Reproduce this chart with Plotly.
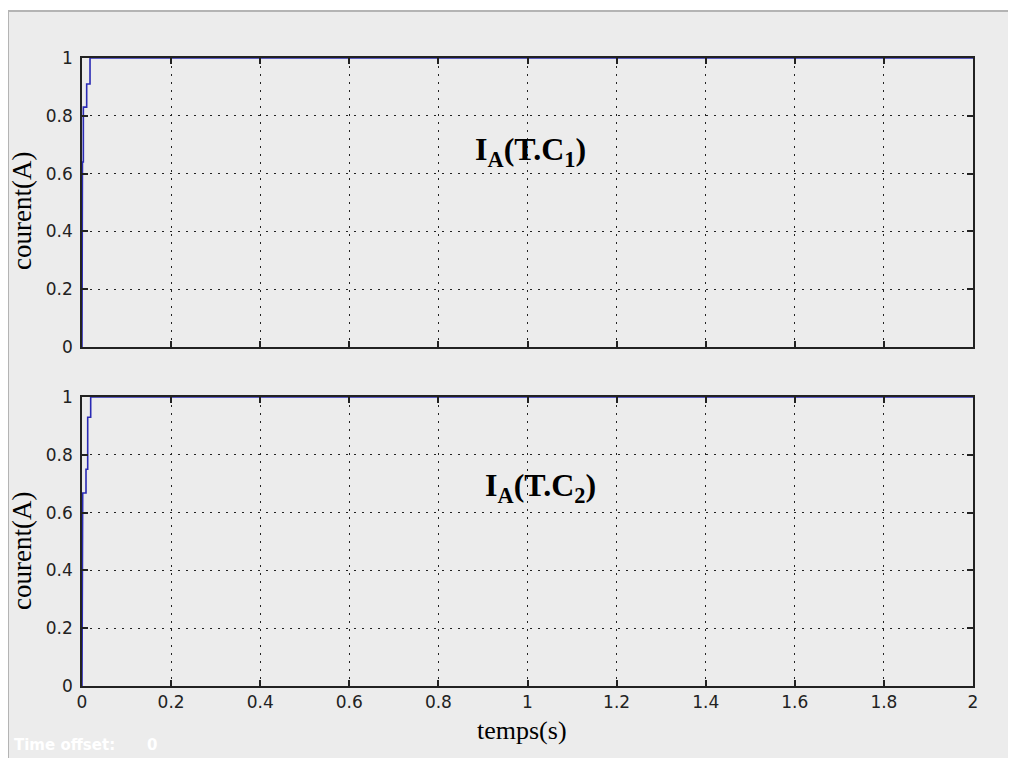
import plotly.graph_objects as go
from plotly.subplots import make_subplots

# Data
t_top = [0, 0, 0.001, 0.001, 0.003, 0.003, 0.0105, 0.0105, 0.018, 0.018, 2.0]
i_top = [0, 0.42, 0.42, 0.64, 0.64, 0.83, 0.83, 0.91, 0.91, 1.0, 1.0]
t_bot = [0, 0, 0.0016, 0.0016, 0.009, 0.009, 0.0128, 0.0128, 0.0195, 0.0195, 2.0]
i_bot = [0, 0.27, 0.27, 0.668, 0.668, 0.75, 0.75, 0.93, 0.93, 1.0, 1.0]
x_ticks = [0, 0.2, 0.4, 0.6, 0.8, 1, 1.2, 1.4, 1.6, 1.8, 2]
x_ticklabels = ["0", "0.2", "0.4", "0.6", "0.8", "1", "1.2", "1.4", "1.6", "1.8", "2"]
y_ticks = [0, 0.2, 0.4, 0.6, 0.8, 1]
y_ticklabels = ["0", "0.2", "0.4", "0.6", "0.8", "1"]
titles = ["<b>I<sub>A</sub>(T.C<sub>1</sub>)</b>", "<b>I<sub>A</sub>(T.C<sub>2</sub>)</b>"]

# figure is placed at page offset (8, 8) by the page's body margin
OFF = 8
W, H = 1008, 750
L, R, T, B = 74, 43, 50, 72
pw, ph = W - L - R, H - T - B
def px(x): return (x - OFF - L) / pw
def py(y): return (H - B - (y - OFF)) / ph

fig = make_subplots(rows=2, cols=1, shared_xaxes=False, vertical_spacing=0)
line_col = "#2a2ab4"
fig.add_trace(go.Scatter(x=t_top, y=i_top, mode="lines", line=dict(color=line_col, width=1.6),
                         showlegend=False), row=1, col=1)
fig.add_trace(go.Scatter(x=t_bot, y=i_bot, mode="lines", line=dict(color=line_col, width=1.6),
                         showlegend=False), row=2, col=1)

tickfont = dict(family="DejaVu Sans, Arial, sans-serif", size=17, color="#222")
axis_common = dict(showline=True, linecolor="#222", linewidth=1.5, mirror="ticks",
                   ticks="inside", ticklen=6, tickcolor="#222", tickwidth=1.5,
                   showgrid=True, gridcolor="#222", griddash="2px,6px", gridwidth=1.2,
                   zeroline=False, tickfont=tickfont)

fig.update_layout(
    xaxis=dict(domain=[0, 1], range=[0, 2], tickvals=x_ticks, ticktext=x_ticklabels,
               showticklabels=False, anchor="y", **axis_common),
    yaxis=dict(domain=[py(347), 1], range=[0, 1], tickvals=y_ticks, ticktext=y_ticklabels,
               anchor="x", ticklabelstandoff=4, **axis_common),
    xaxis2=dict(domain=[0, 1], range=[0, 2], tickvals=x_ticks, ticktext=x_ticklabels,
                anchor="y2", **axis_common),
    yaxis2=dict(domain=[0, py(397)], range=[0, 1], tickvals=y_ticks, ticktext=y_ticklabels,
                anchor="x2", ticklabelstandoff=4, **axis_common),
)

serif = "Liberation Serif, Times New Roman, serif"
def note(x, y, text, size, angle=0, xanchor="center", color="black", family=serif):
    return dict(x=px(x), y=py(y), xref="paper", yref="paper", text=text, textangle=angle,
                showarrow=False, xanchor=xanchor, yanchor="middle",
                font=dict(family=family, size=size, color=color))

ann = [
    note(530, 151, titles[0], 32),
    note(540, 487, titles[1], 32),
    note(22, 211, "courent(A)", 27, angle=-90),
    note(22, 551, "courent(A)", 27, angle=-90),
    note(522, 730, "temps(s)", 26),
    note(12, 745, "<b>Time offset:</b>", 15, xanchor="left", color="white",
         family="DejaVu Sans, Arial, sans-serif"),
    note(145, 745, "<b>0</b>", 15, xanchor="left", color="white",
         family="DejaVu Sans, Arial, sans-serif"),
]

shapes = [
    dict(type="rect", xref="paper", yref="paper", x0=px(8), x1=px(1016), y0=py(11), y1=py(758),
         fillcolor="#ececec", line=dict(width=0), layer="below"),
    dict(type="line", xref="paper", yref="paper", x0=px(8), x1=px(8), y0=py(11), y1=py(758),
         line=dict(color="#b4b4b4", width=2)),
    dict(type="line", xref="paper", yref="paper", x0=px(8), x1=px(1016), y0=py(11), y1=py(11),
         line=dict(color="#b4b4b4", width=2)),
]

fig.update_layout(width=W, height=H, margin=dict(l=L, r=R, t=T, b=B),
                  paper_bgcolor="white", plot_bgcolor="white",
                  annotations=ann, shapes=shapes, showlegend=False)

fig.write_html("out.html")
